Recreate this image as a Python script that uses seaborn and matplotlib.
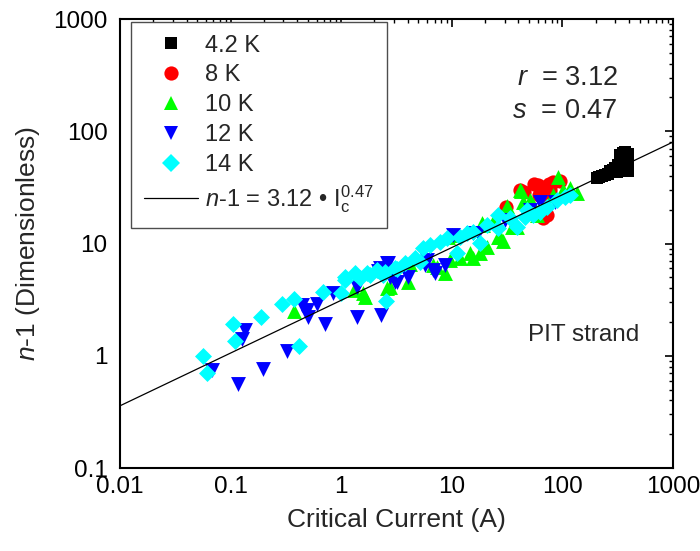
import numpy as np
import pandas as pd
import matplotlib
matplotlib.use("Agg")
import matplotlib.pyplot as plt
import seaborn as sns
from matplotlib.ticker import LogLocator, FixedLocator, FuncFormatter, NullFormatter
from matplotlib.lines import Line2D

# ---------------- data ----------------
ic_42 = [204, 215, 230, 245, 260, 270, 285, 300, 320, 335, 345, 355, 370, 390, 395,
         390, 385, 380, 350, 340, 310, 370, 395, 330, 360, 375]
n_42 = [38, 39, 40, 41, 42, 44, 45, 47, 50, 55, 60, 64, 65, 63, 58,
        52, 47, 44, 46, 44, 43, 55, 44, 62, 52, 58]

ic_8 = [31, 41, 45, 55, 60, 67, 70, 75, 78, 83, 95, 67, 72, 62]
n_8 = [21, 30, 29, 34, 33, 25, 32, 34, 30, 35, 36, 17, 18, 27]

ic_10 = [0.374, 1.31, 1.58, 1.64, 2.6, 2.76, 4.04, 4.2, 6.8, 7.4, 8.68, 9.3, 9.6,
         9.98, 11.9, 14.6, 15.5, 18.0, 18.6, 19.1, 20.9, 23.7, 26.3, 27.3, 29, 31.3,
         34.9, 39, 41.4, 42, 44.3, 51, 54.6, 58.6, 82.8, 91.9, 102, 117, 135]
n_10 = [2.50, 3.85, 3.6, 3.36, 4.0, 4.12, 4.57, 6.6, 6.43, 6.2, 5.43, 11.5, 7.1,
        11.9, 7.5, 8.18, 7.5, 8.2, 15.1, 14.6, 9.3, 15.6, 11.5, 11.4, 10.6, 21.6,
        14.1, 13.9, 30.0, 29.5, 23.6, 24.4, 22.0, 17.9, 27.0, 38.9, 30.0, 31.0, 28.0]

ic_12 = [0.0675, 0.117, 0.128, 0.135, 0.195, 0.321, 0.44, 0.488, 0.504, 0.60, 0.714,
         0.838, 1.38, 1.39, 2.16, 2.24, 2.27, 2.58, 2.67, 2.76, 3.06, 3.18, 4.04, 5.72,
         5.93, 6.8, 7.05, 8.68, 10.3, 15.5, 17.4, 30.3, 50.9, 62.7, 85.7]
n_12 = [0.746, 0.56, 1.40, 1.70, 0.77, 1.11, 2.83, 2.56, 2.23, 2.89, 1.92,
        3.60, 4.07, 2.20, 5.69, 6.05, 2.31, 6.66, 6.66, 5.06, 4.51, 4.57, 5.06, 6.43,
        7.13, 5.8, 5.43, 6.43, 11.9, 12.5, 12.3, 16.2, 19.9, 23.6, 23.6]

ic_14 = [0.0566, 0.0608, 0.1045, 0.110, 0.187, 0.293, 0.376, 0.415, 0.68, 1.0, 1.08,
         1.09, 1.33, 1.48, 1.70, 1.82, 2.09, 2.39, 2.49, 2.54, 3.06, 3.18, 3.78, 4.65,
         5.16, 5.52, 6.35, 7.82, 9.0, 11.1, 11.9, 13.6, 15.5, 18.0, 20.7, 26.3, 26.3,
         33.6, 38.6, 45.9, 47.9, 54.2, 62.7, 72.1, 89.3, 105.6, 117]
n_14 = [1.0, 0.70, 1.92, 1.36, 2.20, 2.89, 3.18, 1.23, 3.72, 3.62, 5.06,
        4.73, 5.43, 4.93, 5.43, 5.24, 5.81, 5.24, 5.54, 3.09, 6.01, 5.93, 6.66, 7.38,
        6.89, 9.06, 9.7, 10.4, 11.1, 8.2, 11.4, 12.3, 12.7, 10.1, 14.6, 17.9, 13.7,
        16.8, 14.1, 17.3, 19.9, 17.9, 19.2, 21.3, 24.4, 26.1, 27.0]

fit_r = 3.12
fit_s = 0.47

series_labels = ["4.2 K", "8 K", "10 K", "12 K", "14 K"]
series_colors = ["#000000", "#ff0000", "#00ff00", "#0000ff", "#00ffff"]
series_markers = ["s", "o", "^", "v", "D"]
series_sizes = [66, 105, 115, 115, 75]

# ---------------- styling ----------------
sns.set_theme(style="white")
plt.rcParams["font.family"] = ["Liberation Sans", "DejaVu Sans"]
plt.rcParams["mathtext.fontset"] = "custom"
plt.rcParams["mathtext.rm"] = "Liberation Sans"
plt.rcParams["mathtext.it"] = "Liberation Sans:italic"
plt.rcParams["mathtext.bf"] = "Liberation Sans:bold"

fig, ax = plt.subplots(figsize=(7, 5.51), dpi=100)
fig.subplots_adjust(left=0.1714, right=0.9614, bottom=0.1506, top=0.9655)

xs_all = [ic_42, ic_8, ic_10, ic_12, ic_14]
ys_all = [n_42, n_8, n_10, n_12, n_14]
frames = []
for lab, xv, yv in zip(series_labels, xs_all, ys_all):
    frames.append(pd.DataFrame({"Ic": xv, "n1": yv, "T": lab}))
df = pd.concat(frames, ignore_index=True)

for lab, col, mk, sz in zip(series_labels, series_colors, series_markers, series_sizes):
    sub = df[df["T"] == lab]
    sns.scatterplot(data=sub, x="Ic", y="n1", color=col, marker=mk, s=sz,
                    linewidth=0, ax=ax, legend=False, zorder=3)

# fit line n-1 = r * Ic^s
fx = np.logspace(-2, 3, 60)
fit_df = pd.DataFrame({"Ic": fx, "n1": fit_r * fx ** fit_s})
sns.lineplot(data=fit_df, x="Ic", y="n1", color="black", linewidth=0.9, ax=ax, zorder=4)

ax.set_xscale("log")
ax.set_yscale("log")
ax.set_xlim(0.01, 1000)
ax.set_ylim(0.1, 1000)

xticks = [0.01, 0.1, 1, 10, 100, 1000]
yticks = [0.1, 1, 10, 100, 1000]
fmt = FuncFormatter(lambda v, p: "%g" % v)
ax.xaxis.set_major_locator(FixedLocator(xticks))
ax.yaxis.set_major_locator(FixedLocator(yticks))
ax.xaxis.set_major_formatter(fmt)
ax.yaxis.set_major_formatter(fmt)
ax.xaxis.set_minor_locator(LogLocator(base=10, subs=np.arange(2, 10), numticks=30))
ax.yaxis.set_minor_locator(LogLocator(base=10, subs=np.arange(2, 10), numticks=30))
ax.xaxis.set_minor_formatter(NullFormatter())
ax.yaxis.set_minor_formatter(NullFormatter())

ax.tick_params(axis="both", which="both", direction="in", top=True, right=True,
               colors="black", labelsize=17.5)
ax.tick_params(axis="both", which="major", length=6, width=1.2)
ax.tick_params(axis="both", which="minor", length=3, width=1.0)
ax.tick_params(axis="x", which="major", pad=6)
ax.tick_params(axis="y", which="major", pad=9)

for sp in ax.spines.values():
    sp.set_visible(True)
    sp.set_color("black")
    sp.set_linewidth(1.5)

ax.set_xlabel("Critical Current (A)", fontsize=19, labelpad=7)
ax.set_ylabel("$n$-1 (Dimensionless)", fontsize=19, labelpad=8)

ax.text(0.9005, 0.868, "$r$  = 3.12", transform=ax.transAxes, fontsize=19.5,
        ha="right", va="center")
ax.text(0.9005, 0.795, "$s$  = 0.47", transform=ax.transAxes, fontsize=19.5,
        ha="right", va="center")
ax.text(0.839, 0.296, "PIT strand", transform=ax.transAxes, fontsize=17.5,
        ha="center", va="center")

handles = []
for lab, col, mk, sz in zip(series_labels, series_colors, series_markers, series_sizes):
    handles.append(Line2D([], [], linestyle="none", marker=mk, color=col,
                          markersize=np.sqrt(sz), markeredgewidth=0, label=lab))
handles.append(Line2D([], [], color="black", linewidth=0.9,
                      label=r"$n$-1 = 3.12 • $\mathrm{I}_\mathrm{c}^\mathrm{0.47}$"))
leg = ax.legend(handles=handles, loc="upper left", bbox_to_anchor=(0.02, 0.994),
                borderaxespad=0, fontsize=17, frameon=True, fancybox=False,
                framealpha=1, edgecolor="0.3", labelspacing=0.33, handlelength=2.3,
                handletextpad=0.3, borderpad=0.55)
leg.get_frame().set_linewidth(1.0)

fig.savefig("out.png", dpi=100)
